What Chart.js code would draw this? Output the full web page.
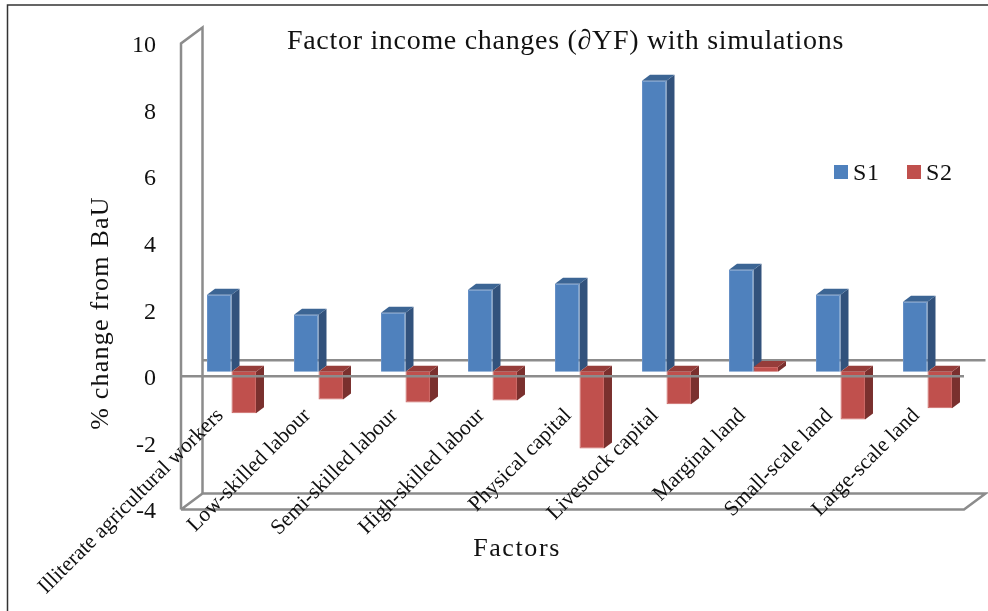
<!DOCTYPE html>
<html>
<head>
<meta charset="utf-8">
<style>
  html, body { margin: 0; padding: 0; background: #fff; }
  canvas { display: block; }
</style>
<script src="https://cdn.jsdelivr.net/npm/chart.js@4/dist/chart.umd.min.js"></script>
</head>
<body>
<canvas id="factor-income" width="988" height="611"></canvas>
<script>
const categories = [
  'Illiterate agricultural workers', 'Low-skilled labour', 'Semi-skilled labour',
  'High-skilled labour', 'Physical capital', 'Livestock capital',
  'Marginal land', 'Small-scale land', 'Large-scale land',
];
const s1Values = [2.31, 1.71, 1.77, 2.46, 2.64, 8.74, 3.06, 2.31, 2.10];
const s2Values = [-1.25, -0.84, -0.93, -0.87, -2.31, -0.98, 0.14, -1.44, -1.10];

const FONT = '"Liberation Serif", serif';
const AXIS_GREY = '#8c8c8c';
// Depth of the box and of the bars inside it
const BOX_DEPTH = { x: 21.5, y: -16 };
const BAR_SHIFT = { x: 7, y: -4.7 };
const BAR_DEPTH = { x: 8, y: -6 };

const shades = [
  { side: '#32527c', top: '#3c6594' },
  { side: '#7a302e', top: '#963d3a' },
];

const polygon = (ctx, pts, fill) => {
  ctx.beginPath();
  pts.forEach(([x, y], i) => (i ? ctx.lineTo(x, y) : ctx.moveTo(x, y)));
  ctx.closePath();
  ctx.fillStyle = fill;
  ctx.fill();
};

const line = (ctx, pts) => {
  ctx.beginPath();
  pts.forEach(([x, y], i) => (i ? ctx.lineTo(x, y) : ctx.moveTo(x, y)));
  ctx.stroke();
};

const text = (ctx, str, x, y, size, spacing = 0, angle = 0, align = 'center') => {
  ctx.save();
  ctx.translate(x, y);
  ctx.rotate(angle);
  ctx.font = `${size}px ${FONT}`;
  ctx.letterSpacing = `${spacing}px`;
  ctx.fillStyle = '#111';
  ctx.textAlign = align;
  ctx.textBaseline = 'middle';
  ctx.fillText(str, 0, 0);
  ctx.restore();
};

// Draws the 3D box, the bar side/top faces, and the loose texts
const box3d = {
  id: 'box3d',
  beforeDatasetsDraw(c) {
    const { ctx, chartArea: a, scales: { y } } = c;
    const zero = y.getPixelForValue(0);
    const { x: dx, y: dy } = BOX_DEPTH;
    ctx.save();
    // Frame round the figure
    ctx.strokeStyle = '#333';
    ctx.lineWidth = 1.5;
    line(ctx, [[7.5, 611], [7.5, 5], [988, 5]]);
    // Walls and floor
    ctx.strokeStyle = AXIS_GREY;
    ctx.lineWidth = 2.5;
    line(ctx, [[a.left, a.bottom], [a.left, a.top], [a.left + dx, a.top + dy], [a.left + dx, a.bottom + dy]]);
    line(ctx, [[a.left, a.bottom], [a.left + dx, a.bottom + dy], [a.right + dx, a.bottom + dy], [a.right, a.bottom], [a.left, a.bottom]]);
    line(ctx, [[a.left + dx, zero + dy], [a.right + dx, zero + dy]]);
    // Bar sides and tops, S1 first so S2 tops lie over them
    c.data.datasets.forEach((ds, i) => {
      c.getDatasetMeta(i).data.forEach((el) => {
        const left = el.x - el.width / 2 + BAR_SHIFT.x;
        const right = left + el.width;
        const top = Math.min(el.y, el.base) + BAR_SHIFT.y;
        const bottom = Math.max(el.y, el.base) + BAR_SHIFT.y;
        const bx = BAR_DEPTH.x;
        const by = BAR_DEPTH.y;
        polygon(ctx, [[right, top], [right + bx, top + by], [right + bx, bottom + by], [right, bottom]], shades[i].side);
        polygon(ctx, [[left, top], [left + bx, top + by], [right + bx, top + by], [right, top]], shades[i].top);
      });
    });
    ctx.restore();
  },
  beforeDatasetDraw(c) {
    c.ctx.save();
    c.ctx.translate(BAR_SHIFT.x, BAR_SHIFT.y);
  },
  afterDatasetDraw(c) {
    c.ctx.restore();
  },
  afterDatasetsDraw(c) {
    const { ctx, chartArea: a, scales: { y } } = c;
    const zero = y.getPixelForValue(0);
    ctx.save();
    ctx.strokeStyle = AXIS_GREY;
    ctx.lineWidth = 2.5;
    line(ctx, [[a.left, zero], [a.right, zero]]);
    ctx.restore();
  },
  afterDraw(c) {
    const { ctx } = c;
    text(ctx, 'Factor income changes (∂YF) with simulations', 565.5, 42, 28, 0.7);
    text(ctx, '% change from BaU', 101.5, 313, 26, 1.2, -Math.PI / 2);
    text(ctx, 'Factors', 517, 549.5, 26, 1.6);
    // Legend
    [[834, 853], [907, 926]].forEach(([bx, tx], i) => {
      const ds = c.data.datasets[i];
      ctx.fillStyle = ds.backgroundColor;
      ctx.fillRect(bx, 165, 14, 14);
      text(ctx, ds.label, tx, 173.5, 24, 0.6, 0, 'left');
    });
  },
};

const chart = new Chart(document.getElementById('factor-income'), {
  type: 'bar',
  data: {
    labels: categories,
    datasets: [
      { label: 'S1', data: s1Values, backgroundColor: '#4f81bd', borderColor: '#6590c6', borderWidth: 1 },
      { label: 'S2', data: s2Values, backgroundColor: '#c0504d', borderColor: '#cc6764', borderWidth: 1 },
    ],
  },
  options: {
    responsive: false,
    animation: false,
    events: [],
    layout: { padding: { top: 43.5, right: 24, left: 0, bottom: 0 } },
    datasets: { bar: { categoryPercentage: 0.563, barPercentage: 1, clip: false } },
    plugins: { legend: { display: false }, tooltip: { enabled: false } },
    scales: {
      x: {
        grid: { display: false },
        border: { display: false },
        afterFit(scale) {
          scale.height = 101.5;
          scale.paddingLeft = 0;
          scale.paddingRight = 0;
        },
        ticks: {
          autoSkip: false,
          minRotation: 45,
          maxRotation: 45,
          // mirror stops the scale clipping labels to its own box
          mirror: true,
          padding: 88,
          labelOffset: 14,
          z: 1,
          color: '#111',
          font: { family: FONT, size: 21.5 },
        },
      },
      y: {
        min: -4,
        max: 10,
        grid: { display: false },
        border: { display: false },
        afterFit(scale) { scale.width = 181; },
        ticks: {
          stepSize: 2,
          padding: 17,
          labelOffset: 2.5,
          color: '#111',
          font: { family: FONT, size: 24 },
        },
      },
    },
  },
  plugins: [box3d],
});
</script>
</body>
</html>
